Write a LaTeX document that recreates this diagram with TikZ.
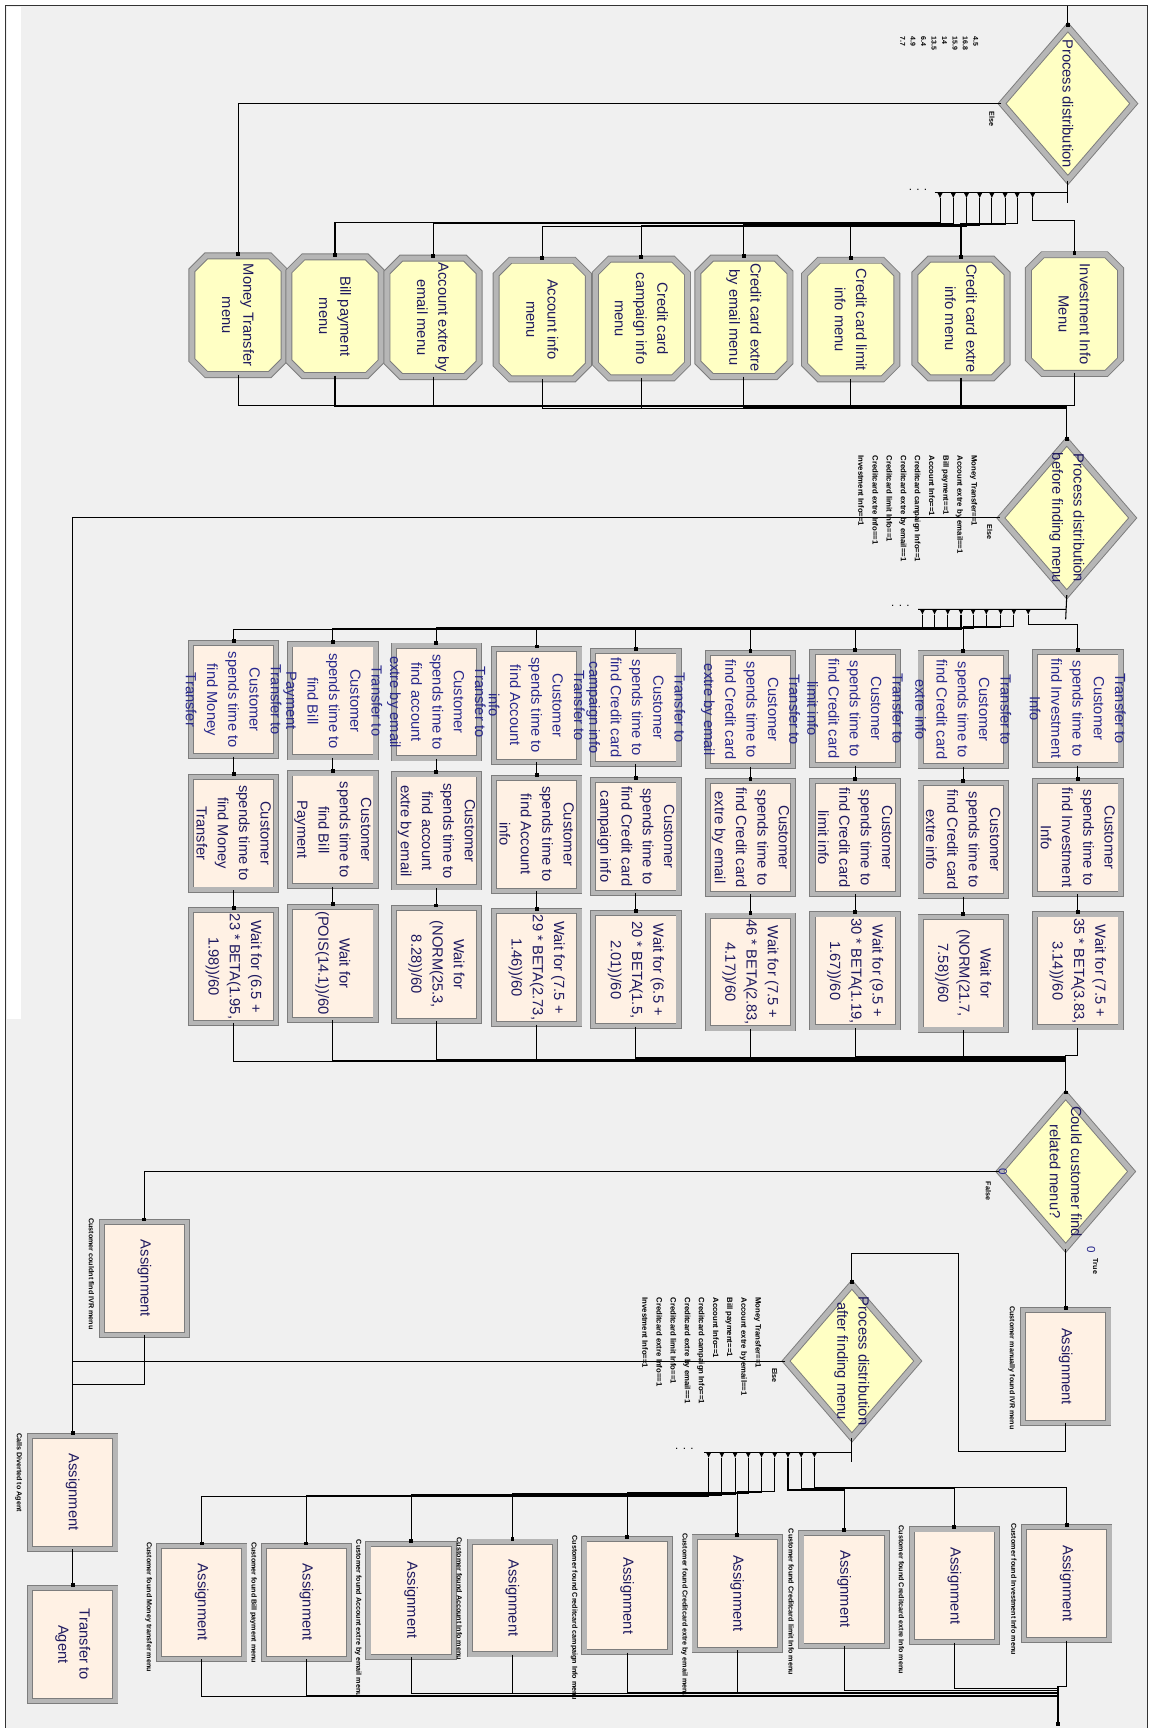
\documentclass[tikz,border=0pt]{standalone}
\usepackage{fontspec}
\setmainfont{Liberation Sans}
\usepackage{xcolor}
\usepackage{tikz}
\usetikzlibrary{positioning,arrows.meta,shapes.geometric,calc}
\definecolor{arenabg}{RGB}{240,240,240}
\definecolor{arenayel}{RGB}{255,255,196}
\definecolor{arenapeach}{RGB}{255,241,228}
\definecolor{arenaedge}{RGB}{125,125,125}
\definecolor{arenabevel}{RGB}{182,182,182}
\definecolor{arenatext}{RGB}{30,25,95}
\definecolor{arenablue}{RGB}{40,40,140}
\tikzset{
  decide/.style={diamond, draw=arenaedge, double=arenabevel, double distance=2.6pt, line width=0.5pt, fill=arenayel, minimum width=2.4cm, minimum height=2.78cm, inner sep=0pt},
  octo/.style={draw=arenaedge, double=arenabevel, double distance=2.6pt, line width=0.5pt, fill=arenayel},
  menu/.style={rectangle, minimum width=1.66cm, minimum height=2.14cm, inner sep=0pt,
    append after command={\pgfextra{\draw[octo]
      ($(\tikzlastnode.north west)+(13,0)$) -- ($(\tikzlastnode.north east)+(-13,0)$) --
      ($(\tikzlastnode.north east)+(0,13)$) -- ($(\tikzlastnode.south east)+(0,-13)$) --
      ($(\tikzlastnode.south east)+(-13,0)$) -- ($(\tikzlastnode.south west)+(13,0)$) --
      ($(\tikzlastnode.south west)+(0,-13)$) -- ($(\tikzlastnode.north west)+(0,13)$) -- cycle;}}},
  box/.style={rectangle, draw=arenaedge, double=arenabevel, double distance=2.2pt, line width=0.45pt, fill=arenapeach, minimum width=1.55cm, minimum height=2.05cm, inner sep=0pt},
  vtext/.style={rotate=-90, align=center, text=arenatext, font=\fontsize{7.6}{11}\selectfont, inner sep=0pt},
  vblue/.style={vtext, text=arenablue},
  tag/.style={rotate=-90, anchor=west, inner sep=0pt, font=\fontsize{3.7}{4.5}\selectfont\bfseries},
  cond/.style={rotate=-90, anchor=north west, align=left, inner sep=0pt, font=\fontsize{4}{7.3}\selectfont\bfseries},
  ctr/.style={rotate=-90, inner sep=0pt, text=arenablue, font=\fontsize{6}{6}\selectfont},
  conn/.style={line width=0.55pt, -{Square[length=2pt,width=2pt]}},
  exitpt/.style={line width=0.5pt, -{Latex[length=3pt,width=3pt]}},
}

\begin{document}
\begin{tikzpicture}[x=0.02cm,y=-0.02cm]
    \useasboundingbox (0,0) rectangle (1044,1568);
    \fill[white] (0,0) rectangle (1044,1568);
    \fill[arenabg] (5,5) rectangle (1041,1568);
    \fill[white] (6,6) rectangle (19,925);
    \draw[line width=0.5pt, black!80] (5,1568) -- (5,5) -- (1041,5) -- (1041,1568);

    \coordinate (src) at (969,5);
    \coordinate (sink) at (960,1566);

    % first decide and the menus
    \node[decide, label={[vtext]center:{Process distribution}}] (d1) at (969,94) {};
    \node[cond, font=\fontsize{3.6}{5.4}\selectfont\bfseries] (n1) at (888,33) {4.5\\16.8\\15.9\\14\\13.5\\6.4\\4.9\\7.7};
    \node[tag] (e1) at (900,101) {Else};
    \node[font=\fontsize{6}{6}\selectfont, inner sep=0pt] (dots1) at (833,172) {. . .};

    \node[menu, label={[vtext]center:{Money Transfer\\menu}}] (mMT) at (216,286) {};
    \node[menu, label={[vtext]center:{Bill payment\\menu}}] (mBP) at (304,287) {};
    \node[menu, label={[vtext]center:{Account extre by\\email menu}}] (mAE) at (393,288) {};
    \node[menu, label={[vtext]center:{Account info\\menu}}] (mAI) at (492,290) {};
    \node[menu, label={[vtext]center:{Credit card\\campaign info\\menu}}] (mCC) at (582,289) {};
    \node[menu, label={[vtext]center:{Credit card extre\\by email menu}}] (mCE) at (675,288) {};
    \node[menu, label={[vtext]center:{Credit card limit\\info menu}}] (mCL) at (772,290) {};
    \node[menu, label={[vtext]center:{Credit card extre\\info menu}}] (mCX) at (872,289) {};
    \node[menu, label={[vtext]center:{Investment Info\\Menu}}] (mIV) at (975,285) {};

    % second decide
    \node[decide, label={[vtext]center:{Process distribution\\before finding menu}}] (d2) at (968,470) {};
    \node[cond] (n2) at (887,413) {Money Transfer==1\\Account extre by email==1\\Bill payment==1\\Account Info==1\\Creditcard campaign Info==1\\Creditcard extre by email==1\\Creditcard limit Info==1\\Creditcard extre Info==1\\Investment Info==1};
    \node[tag] (e2) at (898,476) {Else};
    \node[font=\fontsize{6}{6}\selectfont, inner sep=0pt] (dots2) at (817,550) {. . .};

    \node[box, label={[vblue]center:{Transfer to\\Customer\\spends time to\\find Money\\Transfer}}] (tMT) at (212,635) {};
    \node[box, label={[vblue]center:{Transfer to\\Customer\\spends time to\\find Bill\\Payment}}] (tBP) at (302,636) {};
    \node[box, label={[vblue]center:{Transfer to\\Customer\\spends time to\\find account\\extre by email}}] (tAE) at (396,637) {};
    \node[box, label={[vblue]center:{Transfer to\\Customer\\spends time to\\find Account\\info}}] (tAI) at (487,640) {};
    \node[box, label={[vblue]center:{Transfer to\\Customer\\spends time to\\find Credit card\\campaign info}}] (tCC) at (577,642) {};
    \node[box, label={[vblue]center:{Transfer to\\Customer\\spends time to\\find Credit card\\extre by email}}] (tCE) at (681,644) {};
    \node[box, label={[vblue]center:{Transfer to\\Customer\\spends time to\\find Credit card\\limit info}}] (tCL) at (776,643) {};
    \node[box, label={[vblue]center:{Transfer to\\Customer\\spends time to\\find Credit card\\extre info}}] (tCX) at (874,644) {};
    \node[box, label={[vblue]center:{Transfer to\\Customer\\spends time to\\find Investment\\Info}}] (tIV) at (978,643) {};

    \node[box, label={[vtext]center:{Customer\\spends time to\\find Money\\Transfer}}] (sMT) at (212,756) {};
    \node[box, label={[vtext]center:{Customer\\spends time to\\find Bill\\Payment}}] (sBP) at (302,753) {};
    \node[box, label={[vtext]center:{Customer\\spends time to\\find account\\extre by email}}] (sAE) at (396,754) {};
    \node[box, label={[vtext]center:{Customer\\spends time to\\find Account\\info}}] (sAI) at (487,757) {};
    \node[box, label={[vtext]center:{Customer\\spends time to\\find Credit card\\campaign info}}] (sCC) at (577,759) {};
    \node[box, label={[vtext]center:{Customer\\spends time to\\find Credit card\\extre by email}}] (sCE) at (681,760) {};
    \node[box, label={[vtext]center:{Customer\\spends time to\\find Credit card\\limit info}}] (sCL) at (776,760) {};
    \node[box, label={[vtext]center:{Customer\\spends time to\\find Credit card\\extre info}}] (sCX) at (874,762) {};
    \node[box, label={[vtext]center:{Customer\\spends time to\\find Investment\\Info}}] (sIV) at (978,760) {};

    \node[box, label={[vtext]center:{Wait for (6.5 +\\23 * BETA(1.95,\\1.98))/60}}] (wMT) at (212,877) {};
    \node[box, label={[vtext]center:{Wait for\\(POIS(14.1))/60}}] (wBP) at (302,874) {};
    \node[box, label={[vtext]center:{Wait for\\(NORM(25.3,\\8.28))/60}}] (wAE) at (396,875) {};
    \node[box, label={[vtext]center:{Wait for (7.5 +\\29 * BETA(2.73,\\1.46))/60}}] (wAI) at (487,878) {};
    \node[box, label={[vtext]center:{Wait for (6.5 +\\20 * BETA(1.5,\\2.01))/60}}] (wCC) at (577,880) {};
    \node[box, label={[vtext]center:{Wait for (7.5 +\\46 * BETA(2.83,\\4.17))/60}}] (wCE) at (681,882) {};
    \node[box, label={[vtext]center:{Wait for (9.5 +\\30 * BETA(1.19,\\1.67))/60}}] (wCL) at (776,881) {};
    \node[box, label={[vtext]center:{Wait for\\(NORM(21.7,\\7.58))/60}}] (wCX) at (874,883) {};
    \node[box, label={[vtext]center:{Wait for (7.5 +\\35 * BETA(3.83,\\3.14))/60}}] (wIV) at (978,881) {};

    % third decide and its two sides
    \node[decide, label={[vtext]center:{Could customer find\\related menu?}}] (d3) at (967,1063) {};
    \node[tag] (e3f) at (897,1072) {False};
    \node[tag] (e3t) at (994,1142) {True};
    \node[ctr] (c3f) at (910,1063) {0};
    \node[ctr] (c3t) at (990,1134) {0};

    \node[box, label={[vtext]center:{Assignment}}] (aIVR) at (967,1240) {};
    \node[tag] (gIVR) at (918,1185) {Customer manually found IVR menu};
    \node[box, label={[vtext]center:{Assignment}}] (aCant) at (131,1160) {};
    \node[tag] (gCant) at (83,1105) {Customer couldnt find IVR menu};
    \node[box, label={[vtext]center:{Assignment}}] (aCalls) at (66,1354) {};
    \node[tag] (gCalls) at (17,1300) {Calls Diverted to Agent};
    \node[box, label={[vtext]center:{Transfer to\\Agent}}] (tAgent) at (66,1492) {};

    % fourth decide and the assignments
    \node[decide, label={[vtext]center:{Process distribution\\after finding menu}}] (d4) at (773,1235) {};
    \node[cond] (n4) at (691,1177) {Money Transfer==1\\Account extre by email==1\\Bill payment==1\\Account Info==1\\Creditcard campaign Info==1\\Creditcard extre by email==1\\Creditcard limit Info==1\\Creditcard extre Info==1\\Investment Info==1};
    \node[tag] (e4) at (703,1241) {Else};
    \node[font=\fontsize{6}{6}\selectfont, inner sep=0pt] (dots4) at (621,1315) {. . .};

    \node[box, label={[vtext]center:{Assignment}}] (fMT) at (183,1454) {};
    \node[box, label={[vtext]center:{Assignment}}] (fBP) at (278,1454) {};
    \node[box, label={[vtext]center:{Assignment}}] (fAE) at (373,1452) {};
    \node[box, label={[vtext]center:{Assignment}}] (fAI) at (465,1450) {};
    \node[box, label={[vtext]center:{Assignment}}] (fCC) at (569,1448) {};
    \node[box, label={[vtext]center:{Assignment}}] (fCE) at (669,1446) {};
    \node[box, label={[vtext]center:{Assignment}}] (fCL) at (766,1442) {};
    \node[box, label={[vtext]center:{Assignment}}] (fCX) at (866,1439) {};
    \node[box, label={[vtext]center:{Assignment}}] (fIV) at (968,1437) {};
    \node[tag] (gMT) at (135,1399) {Customer found Money transfer menu};
    \node[tag] (gBP) at (230,1399) {Customer found Bill payment menu};
    \node[tag] (gAE) at (325,1397) {Customer found Account extre by email menu};
    \node[tag] (gAI) at (417,1395) {Customer found Account Info menu};
    \node[tag] (gCC) at (521,1393) {Customer found Creditcard campaign Info menu};
    \node[tag] (gCE) at (621,1391) {Customer found Creditcard extre by email menu};
    \node[tag] (gCL) at (718,1387) {Customer found Creditcard limit Info menu};
    \node[tag] (gCX) at (818,1384) {Customer found Creditcard extre Info menu};
    \node[tag] (gIV) at (920,1382) {Customer found Investment Info menu};

    % branch bars
    \draw[line width=0.55pt] (d1.south) -- (969,184) (848,175) -- (969,175);
    \foreach \x [count=\i] in {853,865,877,889,900,912,923,937}
      {\coordinate (ua\i) at (\x,180); \draw[exitpt] (\x,175) -- (ua\i);}
    \draw[line width=0.55pt] (d2.south) -- (967,562) (833,553) -- (967,553);
    \foreach \x [count=\i] in {837,848,860,872,883,895,908,920,933}
      {\coordinate (ub\i) at (\x,558); \draw[exitpt] (\x,553) -- (ub\i);}
    \draw[line width=0.55pt] (d4.south) -- (773,1327) (639,1318) -- (773,1318);
    \foreach \x [count=\i] in {643,655,667,679,691,703,715,727,739}
      {\coordinate (uc\i) at (\x,1323); \draw[exitpt] (\x,1318) -- (uc\i);}

    % connectors
    \draw[conn] (src) -- (d1.north);
    \draw[conn] (d1.west) -| (mMT.north);
    \draw[conn] (ua1) -- (ua1 |- 0,202) -| (mBP.north);
    \draw[conn] (ua2) -- (ua2 |- 0,203) -| (mAE.north);
    \draw[conn] (ua3) -- (ua3 |- 0,205.5) -| (mAI.north);
    \draw[conn] (ua4) -- (ua4 |- 0,204.5) -| (mCC.north);
    \draw[conn] (ua5) -- (ua5 |- 0,204) -| (mCE.north);
    \draw[conn] (ua6) -- (ua6 |- 0,203.5) -| (mCL.north);
    \draw[conn] (ua7) -- (ua7 |- 0,203) -| (mCX.north);
    \draw[conn] (ua8) -- (ua8 |- 0,200) -| (mIV.north);

    \draw[conn] (mMT.south) -- (mMT.south |- 0,368) -| (d2.north);
    \draw[conn] (mBP.south) -- (mBP.south |- 0,369) -| (d2.north);
    \draw[conn] (mAE.south) -- (mAE.south |- 0,368.5) -| (d2.north);
    \draw[conn] (mAI.south) -- (mAI.south |- 0,371) -| (d2.north);
    \draw[conn] (mCC.south) -- (mCC.south |- 0,370.5) -| (d2.north);
    \draw[conn] (mCE.south) -- (mCE.south |- 0,370) -| (d2.north);
    \draw[conn] (mCL.south) -- (mCL.south |- 0,369.5) -| (d2.north);
    \draw[conn] (mCX.south) -- (mCX.south |- 0,369) -| (d2.north);
    \draw[conn] (mIV.south) -- (mIV.south |- 0,368) -| (d2.north);

    \draw[conn] (d2.west) -| (aCalls.north);
    \draw[conn] (ub1) -- (ub1 |- 0,571) -| (tMT.north);
    \draw[conn] (ub2) -- (ub2 |- 0,570) -| (tBP.north);
    \draw[conn] (ub3) -- (ub3 |- 0,569) -| (tAE.north);
    \draw[conn] (ub4) -- (ub4 |- 0,571.5) -| (tAI.north);
    \draw[conn] (ub5) -- (ub5 |- 0,570.5) -| (tCC.north);
    \draw[conn] (ub6) -- (ub6 |- 0,569.5) -| (tCE.north);
    \draw[conn] (ub7) -- (ub7 |- 0,569) -| (tCL.north);
    \draw[conn] (ub8) -- (ub8 |- 0,568.5) -| (tCX.north);
    \draw[conn] (ub9) -- (ub9 |- 0,567) -| (tIV.north);

    \draw[conn] (tMT.south) -- (sMT.north);
    \draw[conn] (tBP.south) -- (sBP.north);
    \draw[conn] (tAE.south) -- (sAE.north);
    \draw[conn] (tAI.south) -- (sAI.north);
    \draw[conn] (tCC.south) -- (sCC.north);
    \draw[conn] (tCE.south) -- (sCE.north);
    \draw[conn] (tCL.south) -- (sCL.north);
    \draw[conn] (tCX.south) -- (sCX.north);
    \draw[conn] (tIV.south) -- (sIV.north);

    \draw[conn] (sMT.south) -- (wMT.north);
    \draw[conn] (sBP.south) -- (wBP.north);
    \draw[conn] (sAE.south) -- (wAE.north);
    \draw[conn] (sAI.south) -- (wAI.north);
    \draw[conn] (sCC.south) -- (wCC.north);
    \draw[conn] (sCE.south) -- (wCE.north);
    \draw[conn] (sCL.south) -- (wCL.north);
    \draw[conn] (sCX.south) -- (wCX.north);
    \draw[conn] (sIV.south) -- (wIV.north);

    \draw[conn] (wMT.south) -- (wMT.south |- 0,963) -| (d3.north);
    \draw[conn] (wBP.south) -- (wBP.south |- 0,962) -| (d3.north);
    \draw[conn] (wAE.south) -- (wAE.south |- 0,961) -| (d3.north);
    \draw[conn] (wAI.south) -- (wAI.south |- 0,962) -| (d3.north);
    \draw[conn] (wCC.south) -- (wCC.south |- 0,960) -| (d3.north);
    \draw[conn] (wCE.south) -- (wCE.south |- 0,959.5) -| (d3.north);
    \draw[conn] (wCL.south) -- (wCL.south |- 0,959) -| (d3.north);
    \draw[conn] (wCX.south) -- (wCX.south |- 0,958.5) -| (d3.north);
    \draw[conn] (wIV.south) -- (wIV.south |- 0,958) -| (d3.north);

    \draw[conn] (d3.west) -| (aCant.north);
    \draw[conn] (d3.south) -- (aIVR.north);
    \draw[conn] (aIVR.south) |- (870,1317) -- (870,1137) -| (d4.north);
    \draw[conn] (aCant.south) -- (aCant.south |- 0,1256) -| (aCalls.north);
    \draw[conn] (d4.west) -| (aCalls.north);
    \draw[conn] (aCalls.south) -- (tAgent.north);

    \draw[conn] (uc1) -- (uc1 |- 0,1358) -| (fMT.north);
    \draw[conn] (uc2) -- (uc2 |- 0,1357) -| (fBP.north);
    \draw[conn] (uc3) -- (uc3 |- 0,1356) -| (fAE.north);
    \draw[conn] (uc4) -- (uc4 |- 0,1355) -| (fAI.north);
    \draw[conn] (uc5) -- (uc5 |- 0,1354) -| (fCC.north);
    \draw[conn] (uc6) -- (uc6 |- 0,1353) -| (fCE.north);
    \draw[conn] (uc7) -- (uc7 |- 0,1352) -| (fCL.north);
    \draw[conn] (uc8) -- (uc8 |- 0,1351) -| (fCX.north);
    \draw[conn] (uc9) -- (uc9 |- 0,1350) -| (fIV.north);

    \draw[conn] (fMT.south) -- (fMT.south |- 0,1539) -| (sink);
    \draw[conn] (fBP.south) -- (fBP.south |- 0,1538.5) -| (sink);
    \draw[conn] (fAE.south) -- (fAE.south |- 0,1537) -| (sink);
    \draw[conn] (fAI.south) -- (fAI.south |- 0,1536.5) -| (sink);
    \draw[conn] (fCC.south) -- (fCC.south |- 0,1536) -| (sink);
    \draw[conn] (fCE.south) -- (fCE.south |- 0,1535.5) -| (sink);
    \draw[conn] (fCL.south) -- (fCL.south |- 0,1534) -| (sink);
    \draw[conn] (fCX.south) -- (fCX.south |- 0,1532) -| (sink);
    \draw[conn] (fIV.south) -- (fIV.south |- 0,1530) -| (sink);
  \end{tikzpicture}
\end{document}
